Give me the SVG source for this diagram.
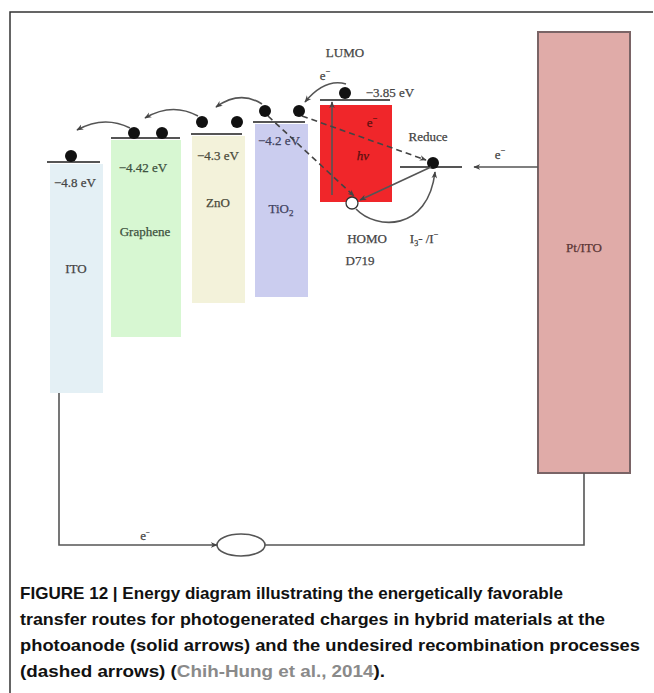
<svg xmlns="http://www.w3.org/2000/svg" width="654" height="693" viewBox="0 0 654 693">
<defs>
<marker id="ah" viewBox="0 0 10 10" refX="9" refY="5" markerWidth="7" markerHeight="7" orient="auto" markerUnits="userSpaceOnUse">
<path d="M0,1 L10,5 L0,9 L3,5 z" fill="#444"/>
</marker>
<style>
.lbl{font-family:"Liberation Serif","DejaVu Serif",serif;font-size:13px;fill:#444;stroke:#444;stroke-width:0.25;}
.lvl{stroke:#555;stroke-width:2;fill:none;}
.dot{fill:#111;}
.ln{stroke:#555;stroke-width:1.6;fill:none;}
.dash{stroke:#444;stroke-width:1.6;fill:none;stroke-dasharray:6,4;}
.cap{font-family:"Liberation Sans",Arial,sans-serif;font-size:16.5px;font-weight:bold;fill:#111;}
</style>
</defs>
<rect x="0" y="0" width="654" height="693" fill="#fff"/>
<path d="M10,693 L10,12 L653,12" stroke="#333" stroke-width="1.5" fill="none"/>

<g id="ito">
<rect x="50" y="164" width="53" height="229" fill="#e4f0f5"/>
<line class="lvl" x1="47" y1="162" x2="100" y2="162"/>
<circle class="dot" cx="71" cy="156" r="6"/>
<text class="lbl" x="75" y="187" text-anchor="middle">−4.8 eV</text>
<text class="lbl" x="76" y="273" text-anchor="middle">ITO</text>
</g>

<g id="graphene">
<rect x="111" y="140" width="70" height="197" fill="#d7f7d2"/>
<line class="lvl" x1="111" y1="138" x2="180" y2="138"/>
<circle class="dot" cx="134" cy="133" r="6"/>
<circle class="dot" cx="162" cy="133" r="6"/>
<text class="lbl" x="143" y="172" text-anchor="middle" style="fill:#3d5240;stroke:#3d5240">−4.42 eV</text>
<text class="lbl" x="145" y="236" text-anchor="middle" style="fill:#3d5240;stroke:#3d5240">Graphene</text>
</g>

<g id="zno">
<rect x="192" y="136" width="53" height="167" fill="#f3f2da"/>
<line class="lvl" x1="191" y1="134" x2="242" y2="134"/>
<circle class="dot" cx="202" cy="122" r="6"/>
<circle class="dot" cx="237" cy="122" r="6"/>
<text class="lbl" x="218" y="160" text-anchor="middle" style="fill:#4a4a3a;stroke:#4a4a3a">−4.3 eV</text>
<text class="lbl" x="218" y="207" text-anchor="middle" style="fill:#4a4a3a;stroke:#4a4a3a">ZnO</text>
</g>

<g id="tio2">
<rect x="255" y="124" width="53" height="173" fill="#cbcdef"/>
<line class="lvl" x1="253" y1="122" x2="305" y2="122"/>
<circle class="dot" cx="265" cy="111" r="6"/>
<circle class="dot" cx="299" cy="111" r="6"/>
<text class="lbl" x="279" y="145" text-anchor="middle" style="fill:#3f4260;stroke:#3f4260">−4.2 eV</text>
<text class="lbl" x="281" y="213" text-anchor="middle" style="fill:#3f4260;stroke:#3f4260">TiO<tspan font-size="9" dy="3">2</tspan></text>
</g>

<g id="d719">
<rect x="320" y="105" width="72" height="97" fill="#f0262a"/>
<line class="lvl" x1="320" y1="100" x2="390" y2="100"/>
<circle class="dot" cx="345" cy="93" r="6"/>
<circle cx="352" cy="203" r="6" fill="#fff" stroke="#333" stroke-width="1.3"/>
<text class="lbl" x="345" y="57" text-anchor="middle">LUMO</text>
<text class="lbl" x="325" y="80" text-anchor="middle">e<tspan font-size="8" dy="-6">−</tspan></text>
<text class="lbl" x="390" y="97" text-anchor="middle">−3.85 eV</text>
<text class="lbl" x="372" y="127" text-anchor="middle" style="fill:#5a1010;stroke:#5a1010">e<tspan font-size="8" dy="-6">−</tspan></text>
<text class="lbl" x="363" y="160" text-anchor="middle" font-style="italic" style="fill:#5a1010;stroke:#5a1010">hν</text>
<text class="lbl" x="367" y="243" text-anchor="middle">HOMO</text>
<text class="lbl" x="360" y="265" text-anchor="middle">D719</text>
</g>

<g id="redox">
<line class="lvl" x1="400" y1="167" x2="462" y2="167"/>
<circle class="dot" cx="433" cy="163" r="6"/>
<text class="lbl" x="428" y="141" text-anchor="middle">Reduce</text>
<text class="lbl" x="424" y="243" text-anchor="middle">I<tspan font-size="8" dy="3">3</tspan><tspan dy="-3">- /I</tspan><tspan font-size="8" dy="-6">−</tspan></text>
<text class="lbl" x="500" y="159" text-anchor="middle">e<tspan font-size="8" dy="-6">−</tspan></text>
</g>

<g id="pt-ito">
<rect x="538" y="32" width="92" height="441" fill="#e0aba8" stroke="#7a6466" stroke-width="2"/>
<text class="lbl" x="584" y="252" text-anchor="middle" style="fill:#5a3535;stroke:#5a3535">Pt/ITO</text>
</g>

<g id="load">
<ellipse cx="241" cy="545" rx="24" ry="11" fill="none" stroke="#555" stroke-width="1.6"/>
<text class="lbl" x="145" y="540" text-anchor="middle" font-size="10">e<tspan font-size="7" dy="-5">−</tspan></text>
</g>

<g id="connectors">
<path class="ln" d="M346,84 Q325,78 305,102" marker-end="url(#ah)"/>
<path class="ln" d="M262,104 Q240,90 216,107" marker-end="url(#ah)"/>
<path class="ln" d="M198,116 Q172,102 145,118" marker-end="url(#ah)"/>
<path class="ln" d="M130,128 Q104,115 77,130" marker-end="url(#ah)"/>
<path class="ln" d="M332,195 L332,102" marker-end="url(#ah)" stroke="#333"/>
<path class="ln" d="M431,167 L360,200" marker-end="url(#ah)"/>
<path class="ln" d="M356,209 C376,230 428,232 435,172" marker-end="url(#ah)"/>
<path class="dash" d="M302,116 L426,160" marker-end="url(#ah)"/>
<path class="dash" d="M268,116 L354,196" marker-end="url(#ah)"/>
<path class="ln" d="M538,167 L474,167" marker-end="url(#ah)"/>
<path class="ln" d="M59,393 L59,545 L217,545" marker-end="url(#ah)"/>
<path class="ln" d="M265,545 L584,545 L584,473"/>
</g>

<g id="caption">
<text class="cap" x="20" y="599" textLength="543" lengthAdjust="spacingAndGlyphs">FIGURE 12 | Energy diagram illustrating the energetically favorable</text>
<text class="cap" x="20" y="625" textLength="585" lengthAdjust="spacingAndGlyphs">transfer routes for photogenerated charges in hybrid materials at the</text>
<text class="cap" x="20" y="651" textLength="620" lengthAdjust="spacingAndGlyphs">photoanode (solid arrows) and the undesired recombination processes</text>
<text class="cap" x="20" y="677" textLength="365" lengthAdjust="spacingAndGlyphs">(dashed arrows) (<tspan fill="#8a8a8a">Chih-Hung et al., 2014</tspan>).</text>
</g>
</svg>
